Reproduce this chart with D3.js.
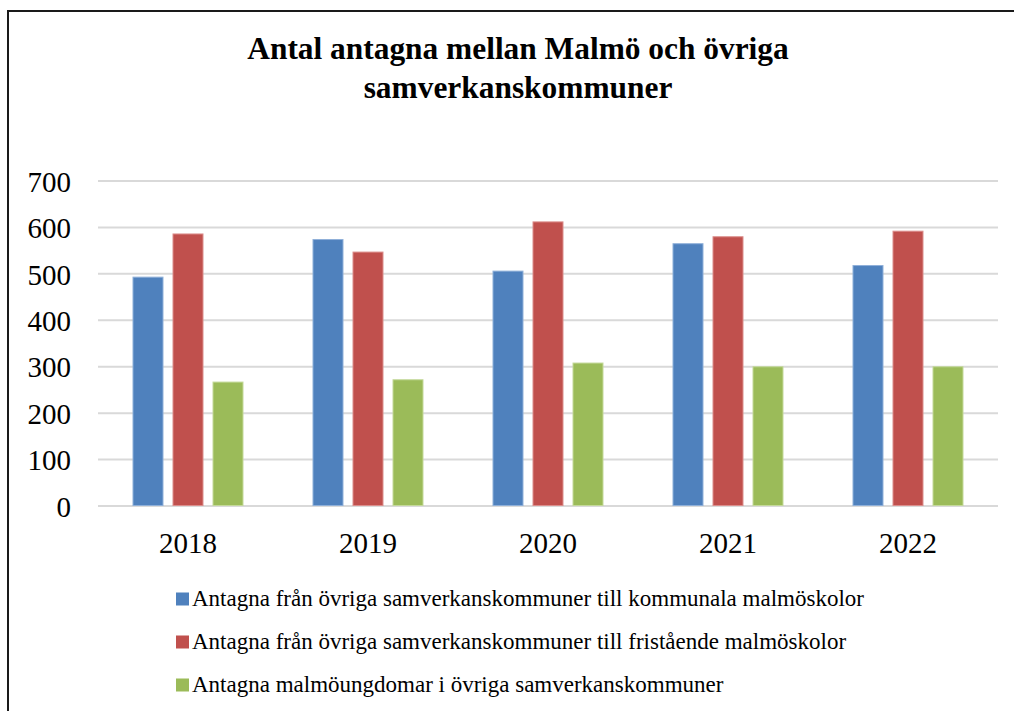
<!DOCTYPE html>
<html>
<head>
<meta charset="utf-8">
<script src="https://cdn.jsdelivr.net/npm/d3@7"></script>
<style>
  html, body { margin: 0; padding: 0; background: #fff; }
  svg { display: block; }
</style>
</head>
<body>
<svg id="chart" width="1014" height="711"></svg>
<script>
const years = ["2018", "2019", "2020", "2021", "2022"];
const seriesNames = [
  "Antagna från övriga samverkanskommuner till kommunala malmöskolor",
  "Antagna från övriga samverkanskommuner till fristående malmöskolor",
  "Antagna malmöungdomar i övriga samverkanskommuner"
];
const kommunala = [494, 575, 507, 566, 519];
const fristaende = [587, 548, 613, 581, 593];
const ungdomar = [268, 273, 309, 301, 301];
const yTicks = [0, 100, 200, 300, 400, 500, 600, 700];
const colors = ["#4F81BD", "#C0504D", "#9BBB59"];
const edgeColors = ["#8FB0D9", "#DC8E8C", "#C4D99A"];
const titleLines = ["Antal antagna mellan Malmö och övriga", "samverkanskommuner"];

const seriesValues = [kommunala, fristaende, ungdomar];
const FONT = "'Liberation Serif', 'Times New Roman', serif";

const svg = d3.select("#chart");

// outer frame
svg.append("rect")
  .attr("x", 8).attr("y", 11)
  .attr("width", 1014).attr("height", 711)
  .attr("fill", "none").attr("stroke", "#1a1a1a").attr("stroke-width", 2);

// title
svg.append("g").selectAll("text").data(titleLines).join("text")
  .attr("x", 518).attr("y", (d, i) => 59 + i * 38.5)
  .attr("text-anchor", "middle")
  .style("font-family", FONT)
  .style("font-weight", "bold")
  .style("font-size", "31.4px")
  .attr("fill", "#000")
  .text(d => d);

const plotLeft = 98, plotRight = 998, plotTop = 181, plotBottom = 506;

const x0 = d3.scaleBand().domain(years).range([plotLeft, plotRight])
  .paddingInner(0.3833).paddingOuter(0.19165);
const x1 = d3.scaleBand().domain(d3.range(seriesNames.length)).range([0, x0.bandwidth()])
  .paddingInner(0.225).paddingOuter(0);
const y = d3.scaleLinear().domain([0, 700]).range([plotBottom, plotTop]);

// grid lines
svg.append("g").selectAll("line").data(yTicks).join("line")
  .attr("x1", plotLeft).attr("x2", plotRight)
  .attr("y1", d => y(d)).attr("y2", d => y(d))
  .attr("stroke", "#d9d9d9").attr("stroke-width", 2);

// y axis labels
const yAxis = d3.axisLeft(y).tickValues(yTicks).tickSize(0).tickPadding(0);
const yg = svg.append("g").attr("transform", `translate(71,0)`).call(yAxis);
yg.select(".domain").remove();
yg.selectAll("text")
  .style("font-family", FONT)
  .style("font-size", "29px").attr("fill", "#000").attr("dy", "0.35em");

// bars
const groups = svg.append("g").selectAll("g").data(years).join("g")
  .attr("transform", d => `translate(${x0(d)},0)`);
groups.selectAll("rect")
  .data((d, i) => seriesValues.map((vals, s) => ({ s, v: vals[i] })))
  .join("rect")
  .attr("x", d => x1(d.s) + 0.5)
  .attr("width", x1.bandwidth() - 1)
  .attr("y", d => y(d.v) + 0.5)
  .attr("height", d => plotBottom - 1 - y(d.v))
  .attr("fill", d => colors[d.s])
  .attr("stroke", d => edgeColors[d.s])
  .attr("stroke-width", 1);

// x axis labels
const xAxis = d3.axisBottom(x0).tickSize(0).tickPadding(0);
const xg = svg.append("g").attr("transform", `translate(0,${plotBottom + 47})`).call(xAxis);
xg.select(".domain").remove();
xg.selectAll("text")
  .style("font-family", FONT)
  .style("font-size", "29px").attr("fill", "#000").attr("dy", 0);

// legend
const legend = svg.append("g").selectAll("g").data(seriesNames).join("g")
  .attr("transform", (d, i) => `translate(176,${599 + i * 43})`);
legend.append("rect")
  .attr("x", 0).attr("y", -6.5).attr("width", 13).attr("height", 13)
  .attr("fill", (d, i) => colors[i]);
legend.append("text")
  .attr("x", 16).attr("y", 7)
  .style("font-family", FONT)
  .style("font-size", "23px")
  .attr("fill", "#000")
  .text(d => d);
</script>
</body>
</html>
